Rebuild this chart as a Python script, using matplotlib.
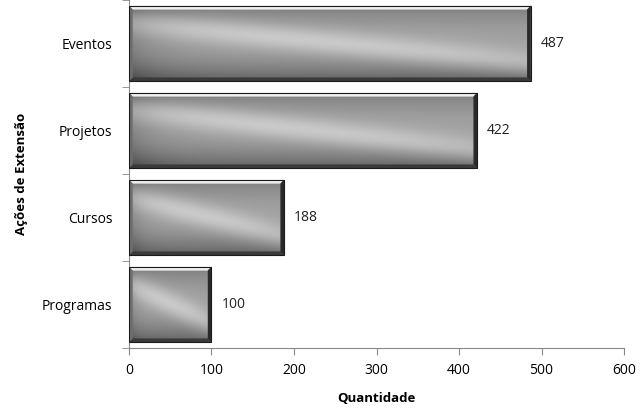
import matplotlib
matplotlib.use("Agg")
import matplotlib.pyplot as plt
import numpy as np
from matplotlib.patches import Polygon, Rectangle

categories = ["Programas", "Cursos", "Projetos", "Eventos"]
values = [100, 188, 422, 487]
x_ticks = [0, 100, 200, 300, 400, 500, 600]

plt.rcParams["font.family"] = ["Open Sans", "DejaVu Sans"]

fig = plt.figure(figsize=(6.43, 4.08), dpi=100)
ax = fig.add_axes([0.2006, 0.147, 0.7699, 0.853])

bar_h = 0.87
bev_x = 4.5
bev_y = 0.045

# gradient texture shared by all bars (origin lower: yy=0 is the bottom)
ny, nx = 80, 240
yy, xx = np.mgrid[0:1:ny * 1j, 0:1:nx * 1j]
base = 0.42 + 0.22 * np.sin(np.pi * (0.1 + 0.8 * yy))
streak = 0.16 * np.exp(-((yy - (0.78 - 0.55 * xx)) ** 2) / 0.03)
left_dark = -0.12 * np.exp(-xx / 0.08)
tex = np.clip(base + streak + left_dark - 0.1 * (1 - yy) ** 3, 0, 1)

for i, v in enumerate(values):
    y0 = i - bar_h / 2
    y1 = i + bar_h / 2
    img = ax.imshow(tex, cmap="gray", vmin=0, vmax=1, origin="lower",
                    extent=[0, v, y0, y1], aspect="auto", zorder=2,
                    interpolation="bilinear")
    rect = Rectangle((0, y0), v, bar_h, transform=ax.transData)
    img.set_clip_path(rect)
    # bevel edges
    top = Polygon([(0, y1), (v, y1), (v - bev_x, y1 - bev_y), (bev_x, y1 - bev_y)],
                  closed=True, facecolor="#f0f0f0", edgecolor="none", zorder=3)
    bot = Polygon([(0, y0), (v, y0), (v - bev_x, y0 + bev_y), (bev_x, y0 + bev_y)],
                  closed=True, facecolor="#3a3a3a", edgecolor="none", zorder=3)
    right = Polygon([(v, y0), (v, y1), (v - bev_x, y1 - bev_y), (v - bev_x, y0 + bev_y)],
                    closed=True, facecolor="#2a2a2a", edgecolor="none", zorder=3)
    left = Polygon([(0, y0), (0, y1), (bev_x, y1 - bev_y), (bev_x, y0 + bev_y)],
                   closed=True, facecolor="#6e6e6e", edgecolor="none", zorder=3)
    for p in (top, bot, right, left):
        ax.add_patch(p)
    ax.add_patch(Rectangle((0, y0), v, bar_h, facecolor="none",
                           edgecolor="#1a1a1a", linewidth=0.8, zorder=4))
    ax.text(v + 12, i, str(v), va="center", ha="left", fontsize=10, color="#222222")

ax.set_xlim(0, 600)
ax.set_ylim(-0.5, len(categories) - 0.5)
ax.set_xticks(x_ticks)
ax.set_yticks(range(len(categories)))
ax.set_yticklabels(categories)
ax.set_yticks(np.arange(-0.5, len(categories), 1), minor=True)
ax.tick_params(axis="y", which="major", length=0, pad=12, labelsize=10)
ax.tick_params(axis="y", which="minor", length=5, color="#888888")
ax.tick_params(axis="x", length=5, color="#888888", labelsize=10, pad=6)
for s in ("top", "right"):
    ax.spines[s].set_visible(False)
for s in ("left", "bottom"):
    ax.spines[s].set_color("#888888")
ax.set_xlabel("Quantidade", fontweight="bold", fontsize=9.5, labelpad=10)
ax.set_ylabel("Ações de Extensão", fontweight="bold", fontsize=9.5, labelpad=10)

fig.savefig("out.png", dpi=100)
